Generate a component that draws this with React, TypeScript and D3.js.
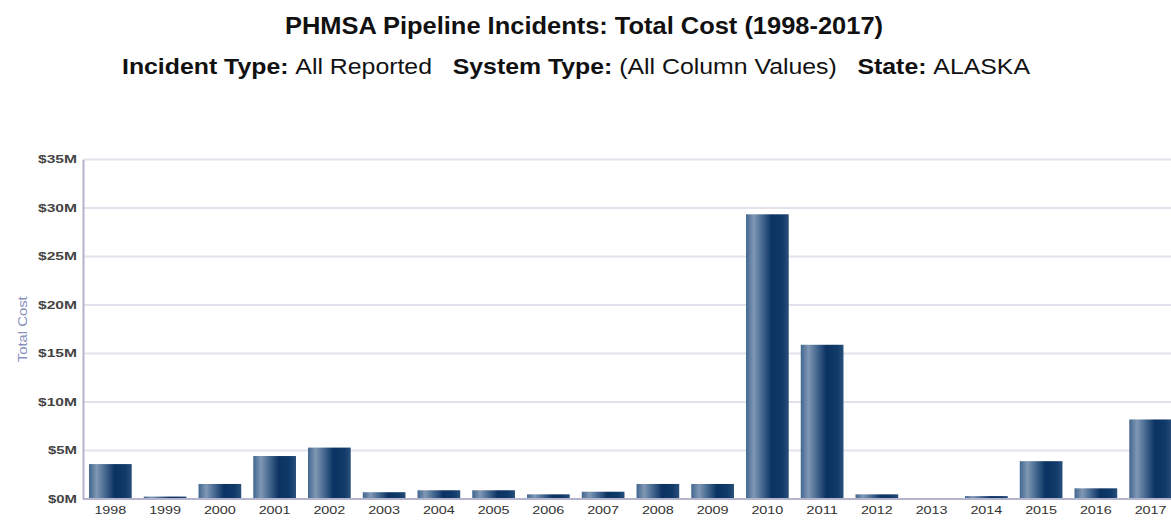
import { useEffect, useRef } from 'react';
import * as d3 from 'd3';

const years = ['1998', '1999', '2000', '2001', '2002', '2003', '2004', '2005', '2006', '2007',
  '2008', '2009', '2010', '2011', '2012', '2013', '2014', '2015', '2016', '2017'];
const totalCost = [3.6, 0.25, 1.55, 4.43, 5.3, 0.7, 0.9, 0.9, 0.48, 0.75,
  1.55, 1.55, 29.35, 15.9, 0.48, 0, 0.3, 3.9, 1.1, 8.2]; // $M
const yTicks = [0, 5, 10, 15, 20, 25, 30, 35];

const [width, height] = [1171, 520];
const margin = { left: 83, top: 159.5, bottom: 499 };
const font = 'Liberation Sans, Arial, sans-serif';

function App() {
  const node = useRef<SVGSVGElement>(null);

  useEffect(() => {
    if (!node.current) return;
    const svg = d3.select(node.current);
    svg.selectAll('*').remove();

    const defs = svg.append('defs');
    const grad = defs.append('linearGradient').attr('id', 'barGrad')
      .attr('x1', '0%').attr('x2', '100%').attr('y1', '0%').attr('y2', '0%');
    [['0%', '#41668f'], ['18%', '#8098b4'], ['35%', '#4d6f96'], ['60%', '#0a3262'], ['85%', '#103a69'], ['100%', '#2a4f7a']]
      .forEach(([o, c]) => grad.append('stop').attr('offset', o).attr('stop-color', c));

    const x = d3.scaleBand()
      .domain(years)
      .range([margin.left, margin.left + 20 * 54.75])
      .paddingInner(0.22)
      .paddingOuter(0.11);

    const y = d3.scaleLinear()
      .domain([0, 35])
      .range([margin.bottom, margin.top]);

    // titles
    svg.append('text')
      .attr('x', 584).attr('y', 34)
      .attr('text-anchor', 'middle')
      .attr('font-family', font)
      .attr('font-weight', 'bold').attr('font-size', 23)
      .attr('fill', '#111')
      .attr('textLength', 598).attr('lengthAdjust', 'spacingAndGlyphs')
      .text('PHMSA Pipeline Incidents: Total Cost (1998-2017)');

    const sub = svg.append('text')
      .attr('x', 122).attr('y', 74)
      .attr('font-family', font)
      .attr('font-size', 21.5).attr('fill', '#111')
      .attr('textLength', 908).attr('lengthAdjust', 'spacingAndGlyphs');
    const parts: [string, boolean][] = [
      ['Incident Type: ', true], ['All Reported', false], ['\u00a0\u00a0\u00a0System Type: ', true],
      ['(All Column Values)', false], ['\u00a0\u00a0\u00a0State: ', true], ['ALASKA', false],
    ];
    parts.forEach(([t, b]) => sub.append('tspan').attr('font-weight', b ? 'bold' : 'normal').text(t));

    // grid
    svg.append('g').selectAll('line')
      .data(yTicks.filter(d => d > 0))
      .join('line')
      .attr('x1', margin.left).attr('x2', width)
      .attr('y1', d => y(d)).attr('y2', d => y(d))
      .attr('stroke', '#e2e2ec').attr('stroke-width', 2);

    // y axis
    const yAxis = svg.append('g')
      .attr('transform', `translate(${margin.left},0)`)
      .call(d3.axisLeft(y).tickValues(yTicks).tickSize(0).tickPadding(6).tickFormat(d => `$${d}M`));
    yAxis.select('.domain').attr('stroke', '#b4b4cc').attr('stroke-width', 2);
    yAxis.selectAll<SVGTextElement, number>('text')
      .attr('font-family', font)
      .attr('font-size', 10.5).attr('font-weight', 'bold').attr('fill', '#444')
      .attr('textLength', d => 19 + 10 * String(d).length).attr('lengthAdjust', 'spacingAndGlyphs');

    svg.append('text')
      .attr('transform', `translate(27,${(margin.top + margin.bottom) / 2}) rotate(-90)`)
      .attr('text-anchor', 'middle')
      .attr('font-family', font)
      .attr('font-size', 13).attr('fill', '#8890c0')
      .attr('textLength', 66).attr('lengthAdjust', 'spacingAndGlyphs')
      .text('Total Cost');

    // bars
    svg.append('g').selectAll('rect')
      .data(totalCost)
      .join('rect')
      .attr('x', (_, i) => x(years[i])!)
      .attr('width', x.bandwidth())
      .attr('y', d => y(d))
      .attr('height', d => y(0) - y(d))
      .attr('fill', 'url(#barGrad)');

    // x axis
    const xAxis = svg.append('g')
      .attr('transform', `translate(0,${margin.bottom})`)
      .call(d3.axisBottom(x).tickSize(0).tickPadding(7));
    xAxis.select('.domain').attr('stroke', '#b4b4cc').attr('stroke-width', 2)
      .attr('d', `M${margin.left},0H${width}`);
    xAxis.selectAll('text')
      .attr('font-family', font)
      .attr('font-size', 11.5).attr('fill', '#333')
      .attr('textLength', 32).attr('lengthAdjust', 'spacingAndGlyphs');
  }, [node]);

  return (
    <svg ref={node} width={width} height={height}
      style={{ position: 'absolute', left: 0, top: 0, background: '#fff' }} />
  );
}

export default App;
